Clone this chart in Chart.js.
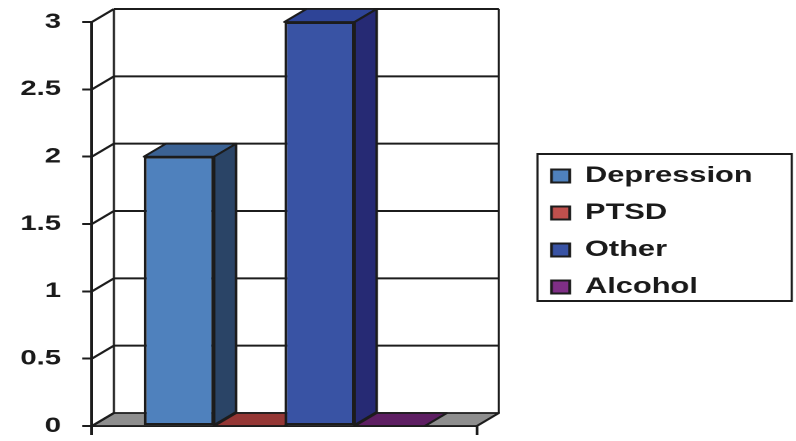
<!DOCTYPE html>
<html><head><meta charset="utf-8">
<script src="https://cdn.jsdelivr.net/npm/chart.js@4.4.1/dist/chart.umd.min.js"></script>
<style>
html,body{margin:0;padding:0;background:#fff;overflow:hidden}
#wrap{width:569px;height:441px;transform:scaleX(1.39895);transform-origin:0 0}
</style></head><body>
<div id="wrap"><canvas id="c" width="569" height="441"></canvas></div>
<script>
// ---- data ----
const categories = [''];
const seriesNames = ['Depression', 'PTSD', 'Other', 'Alcohol'];
const depression = [2];
const ptsd = [0];
const other = [3];
const alcohol = [0];
const yMin = 0, yMax = 3, yStep = 0.5;
const yTickLabels = ['0', '0.5', '1', '1.5', '2', '2.5', '3'];

// ---- styles ----
const frontColors = ['#4F81BD', '#C0504D', '#3953A4', '#7F2F86'];
const sideColors  = ['#2A4466', '#7A2A28', '#262A74', '#4E1A52'];
const topColors   = ['#3B6294', '#953735', '#2E4497', '#5E1F63'];
const FLOOR = '#8E8E8E';
const LINE = '#1c1c1c';
const TXT = '#1a1a1a';
const FONT = "'Liberation Sans', Arial, sans-serif";
const DX = 15.7, DY = -13;

function seg(ctx, x1, y1, x2, y2) {
  ctx.beginPath(); ctx.moveTo(x1, y1); ctx.lineTo(x2, y2);
  ctx.lineWidth = Math.abs(x2 - x1) < 0.5 ? 1.5 : 2;
  ctx.strokeStyle = LINE; ctx.stroke();
}
function poly(ctx, pts, fill) {
  ctx.beginPath();
  pts.forEach((p, i) => i ? ctx.lineTo(p[0], p[1]) : ctx.moveTo(p[0], p[1]));
  ctx.closePath();
  ctx.fillStyle = fill; ctx.fill();
  ctx.lineWidth = 1.8; ctx.strokeStyle = LINE; ctx.stroke();
}

const box3d = {
  id: 'box3d',
  beforeDatasetsDraw(chart) {
    const {ctx, chartArea: ca, scales: {y}} = chart;
    const L = ca.left, R = ca.right;
    const B = y.getPixelForValue(y.min), T = y.getPixelForValue(y.max);
    ctx.save(); ctx.lineJoin = 'round';
    poly(ctx, [[L, B], [R, B], [R + DX, B + DY], [L + DX, B + DY]], FLOOR);
    y.ticks.forEach(t => {
      const yy = y.getPixelForValue(t.value);
      if (t.value > y.min) seg(ctx, L + DX, yy + DY, R + DX, yy + DY);
      seg(ctx, L, yy, L + DX, yy + DY);
    });
    seg(ctx, L + DX, T + DY, L + DX, B + DY);
    seg(ctx, R + DX, T + DY, R + DX, B + DY);
    chart.data.datasets.forEach((ds, i) => {
      const meta = chart.getDatasetMeta(i);
      meta.data.forEach(el => {
        const p = el.getProps(['x', 'y', 'base', 'width'], true);
        const l = p.x - p.width / 2, r = p.x + p.width / 2;
        poly(ctx, [[l, p.y], [r, p.y], [r + DX, p.y + DY], [l + DX, p.y + DY]], topColors[i]);
        if (p.base - p.y > 1) {
          poly(ctx, [[r, p.y], [r + DX, p.y + DY], [r + DX, p.base + DY], [r, p.base]], sideColors[i]);
        }
      });
    });
    ctx.restore();
  },
  afterDraw(chart) {
    const lg = chart.legend, hb = lg.legendHitBoxes;
    if (!hb || !hb.length) return;
    const last = hb[hb.length - 1];
    const x1 = hb[0].left - 10, y1 = hb[0].top - 11;
    const x2 = chart.width - 3, y2 = last.top + last.height + 3;
    const ctx = chart.ctx;
    ctx.save();
    seg(ctx, x1, y1, x2, y1); seg(ctx, x1, y2, x2, y2);
    seg(ctx, x1, y1 - 1, x1, y2 + 1); seg(ctx, x2, y1 - 1, x2, y2 + 1);
    ctx.restore();
  }
};

const seriesValues = [depression, ptsd, other, alcohol];
new Chart(document.getElementById('c'), {
  type: 'bar',
  data: {
    labels: categories,
    datasets: seriesNames.map((n, i) => ({
      label: n,
      data: seriesValues[i],
      backgroundColor: frontColors[i],
      borderColor: LINE,
      borderWidth: 2,
      borderSkipped: false,
      categoryPercentage: 0.73,
      barPercentage: 1.0
    }))
  },
  options: {
    responsive: false,
    animation: false,
    devicePixelRatio: 2,
    layout: {padding: {top: 22, right: 21, bottom: 0, left: 0}},
    plugins: {
      legend: {
        position: 'right', align: 'center', fullSize: true, maxWidth: 220,
        labels: {boxWidth: 13, boxHeight: 13, padding: 15, color: TXT,
                 font: {family: FONT, size: 22, weight: 'bold'}}
      },
      tooltip: {enabled: false}
    },
    scales: {
      x: {
        grid: {drawOnChartArea: false, drawTicks: true, tickLength: 9, color: LINE, lineWidth: 2, offset: true},
        border: {display: true, color: LINE, width: 2},
        ticks: {display: false},
        afterFit(s) { s.height = 15; s.paddingLeft = 0; s.paddingRight = 0; }
      },
      y: {
        min: yMin, max: yMax,
        ticks: {stepSize: yStep, padding: 15, color: TXT, font: {family: FONT, size: 21, weight: 'bold'},
                callback: (v, i) => yTickLabels[i]},
        grid: {drawOnChartArea: false, drawTicks: true, tickLength: 7, color: LINE, lineWidth: 2},
        border: {display: true, color: LINE, width: 2},
        afterFit(s) { s.width = 65.7; s.paddingTop = 0; s.paddingBottom = 0; }
      },
      yR: {
        position: 'right', display: true,
        grid: {display: false}, ticks: {display: false}, border: {display: false},
        afterFit(s) { s.width = 38.3; s.paddingTop = 0; s.paddingBottom = 0; }
      }
    }
  },
  plugins: [box3d]
});
</script>
</body></html>
